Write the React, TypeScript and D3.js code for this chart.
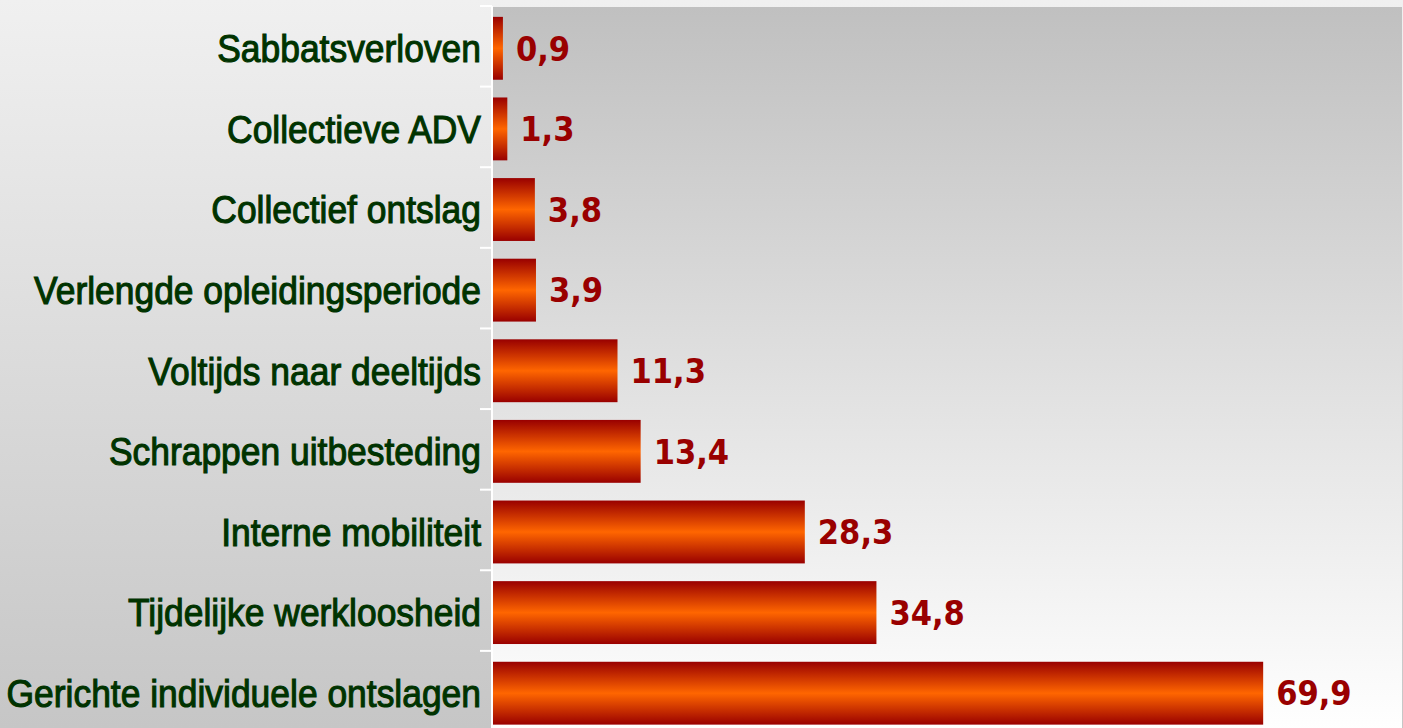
import React, { useEffect } from "react";
import * as d3 from "d3";

const categories = [
  "Sabbatsverloven",
  "Collectieve ADV",
  "Collectief ontslag",
  "Verlengde opleidingsperiode",
  "Voltijds naar deeltijds",
  "Schrappen uitbesteding",
  "Interne mobiliteit",
  "Tijdelijke werkloosheid",
  "Gerichte individuele ontslagen",
];
const values = [0.9, 1.3, 3.8, 3.9, 11.3, 13.4, 28.3, 34.8, 69.9];

const W = 1403;
const H = 728;
const plotLeft = 493;
const plotRight = 1402;
const plotTop = 7;
const plotBottom = 732.5;

export default function App() {
  useEffect(() => {
    document.body.style.margin = "0";
  }, []);

  const x = d3.scaleLinear().domain([0, 82.5]).range([plotLeft, plotRight]);
  const y = d3
    .scaleBand<string>()
    .domain(categories)
    .range([plotTop + 1, plotBottom + 1])
    .paddingInner(0.22)
    .paddingOuter(0.11);
  const step = y.step();
  const fmt = (v: number) => d3.format(".1f")(v).replace(".", ",");

  return (
    <svg width={W} height={H} style={{ display: "block" }}>
      <defs>
        <linearGradient id="outerBg" x1="0" y1="0" x2="0" y2="1">
          <stop offset="0" stopColor="#f0f0f0" />
          <stop offset="1" stopColor="#c6c6c6" />
        </linearGradient>
        <linearGradient id="plotBg" x1="0" y1="0" x2="0" y2="1">
          <stop offset="0" stopColor="#c0c0c0" />
          <stop offset="1" stopColor="#ffffff" />
        </linearGradient>
        <linearGradient id="barGrad" x1="0" y1="0" x2="0" y2="1">
          <stop offset="0" stopColor="#990000" />
          <stop offset="0.5" stopColor="#ff6600" />
          <stop offset="1" stopColor="#990000" />
        </linearGradient>
      </defs>
      <rect x={0} y={0} width={W} height={H} fill="url(#outerBg)" />
      <rect
        x={plotLeft}
        y={plotTop}
        width={plotRight - plotLeft}
        height={plotBottom - plotTop}
        fill="url(#plotBg)"
      />
      {categories.map((c, i) => (
        <rect
          key={c}
          x={x(0)}
          y={y(c)!}
          width={x(values[i]) - x(0)}
          height={y.bandwidth()}
          fill="url(#barGrad)"
        />
      ))}
      <line x1={plotLeft - 1} x2={plotLeft - 1} y1={plotTop - 1} y2={H} stroke="#ffffff" strokeWidth={2} />
      {d3.range(categories.length + 1).map((i) => (
        <line
          key={i}
          x1={480}
          x2={plotLeft - 1}
          y1={plotTop - 1 + i * step}
          y2={plotTop - 1 + i * step}
          stroke="#ffffff"
          strokeWidth={2}
        />
      ))}
      {categories.map((c, i) => (
        <text
          key={c}
          transform={`translate(481,${y(c)! + y.bandwidth() / 2}) scale(0.92,1)`}
          textAnchor="end"
          dy="0.36em"
          fontFamily="'Liberation Sans', Arial, sans-serif"
          fontSize={38.5}
          fill="#003300"
          stroke="#003300"
          strokeWidth={1.1}
        >
          {c}
        </text>
      ))}
      {categories.map((c, i) => (
        <text
          key={c}
          x={x(values[i]) + 13}
          y={y(c)! + y.bandwidth() / 2}
          dy="0.36em"
          fontFamily="'DejaVu Sans Condensed', 'DejaVu Sans', sans-serif"
          fontWeight="bold"
          fontSize={34}
          fill="#990000"
        >
          {fmt(values[i])}
        </text>
      ))}
    </svg>
  );
}
